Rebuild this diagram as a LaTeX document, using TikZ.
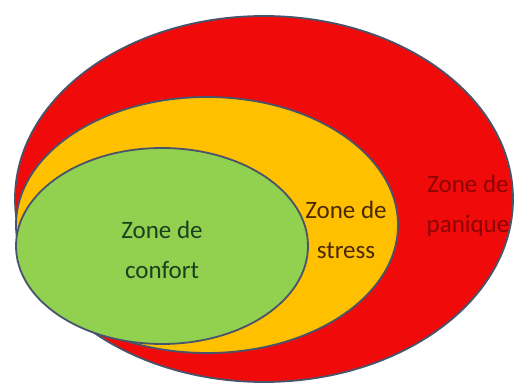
\documentclass[tikz,border=0pt]{standalone}
\usepackage{fontspec}
\setmainfont{Carlito}
\usetikzlibrary{shapes.geometric}
\definecolor{panicred}{RGB}{240,10,10}
\definecolor{stressamber}{RGB}{255,192,0}
\definecolor{comfortgreen}{RGB}{146,208,80}
\definecolor{rim}{RGB}{72,84,108}
\definecolor{panicink}{RGB}{140,5,5}
\definecolor{stressink}{RGB}{75,40,5}
\definecolor{comfortink}{RGB}{25,65,30}
\tikzset{
  zone/.style={ellipse,draw=rim,line width=1.8pt,fill=#1,inner sep=0pt},
  zone/.default=comfortgreen,
  label/.style={text=#1,align=center,font=\fontsize{25}{40}\selectfont},
}
\begin{document}
\begin{tikzpicture}[x=1pt,y=-1pt]
  \useasboundingbox (0,0) rectangle (517,387);
  \node[zone=panicred,minimum width=498pt,minimum height=366pt] (panique) at (264,199) {};
  \node[zone=stressamber,minimum width=382pt,minimum height=256pt] (stress) at (207,225) {};
  \node[zone=comfortgreen,minimum width=292pt,minimum height=196pt] (confort) at (162,246) {};
  % zone names
  \node[label=comfortink] (t confort) at (162,250) {Zone de\\confort};
  \node[label=stressink] (t stress) at (346,230) {Zone de\\stress};
  \node[label=panicink] (t panique) at (468,206) {Zone de\\panique};
\end{tikzpicture}
\end{document}
